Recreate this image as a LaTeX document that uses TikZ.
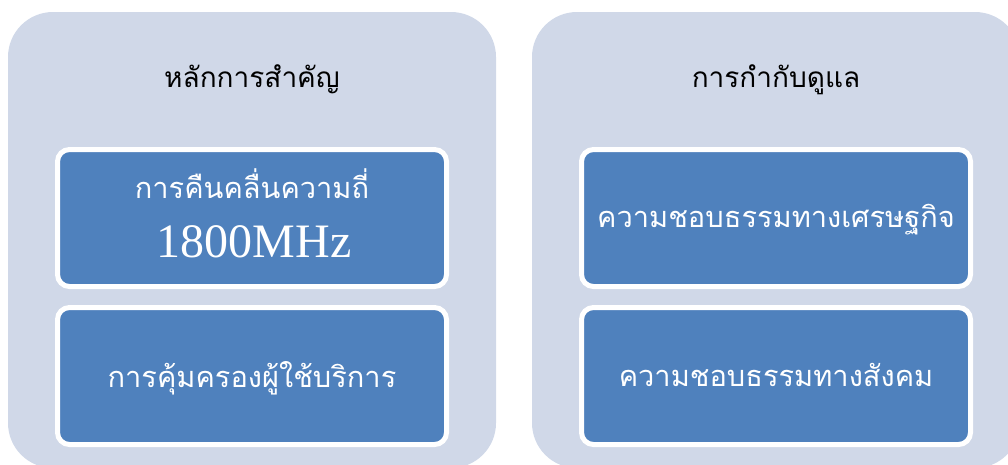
\documentclass[tikz,border=0pt]{standalone}
\usepackage{fontspec}
\newfontfamily\thai[Script=Thai]{Loma}
\newfontfamily\numfont{Liberation Serif}
\definecolor{panelfill}{RGB}{208,216,232}
\definecolor{boxfill}{RGB}{79,129,189}
\begin{document}
\begin{tikzpicture}[x=1pt,y=-1pt,
  panel/.style={rectangle, rounded corners=45pt, fill=panelfill, draw=none,
    minimum width=488pt, minimum height=456pt, inner sep=0pt},
  titletext/.style={inner sep=0pt, anchor=base, text=black, font=\thai\fontsize{28}{32}\selectfont},
  itembox/.style={rectangle, rounded corners=12pt, fill=boxfill, draw=white,
    line width=5pt, minimum width=389pt, minimum height=137pt, inner sep=0pt},
  itemtext/.style={inner sep=0pt, anchor=base, text=white, font=\thai\fontsize{29}{34}\selectfont},
  numtext/.style={inner sep=0pt, anchor=base, text=white, font=\numfont\fontsize{48}{52}\selectfont}]
\useasboundingbox (0,0) rectangle (1008,464);
\clip (0,0) rectangle (1008,464);
\node[panel] (lp) at (252,240) {};
\node[panel] (rp) at (776,240) {};
\node[titletext] (lt) at (252,87) {หลักการสำคัญ};
\node[titletext] (rt) at (776,87) {การกำกับดูแล};
\node[itembox] (l1) at (252,218) {};
\node[itembox] (l2) at (252,376) {};
\node[itembox] (r1) at (776,218) {};
\node[itembox] (r2) at (776,376) {};
\node[itemtext] (l1a) at (252,198) {การคืนคลื่นความถี่};
\node[numtext] (l1b) at (254,257) {1800MHz};
\node[itemtext] (l2t) at (252,387) {การคุ้มครองผู้ใช้บริการ};
\node[itemtext] (r1t) at (776,227) {ความชอบธรรมทางเศรษฐกิจ};
\node[itemtext] (r2t) at (776,386) {ความชอบธรรมทางสังคม};
\end{tikzpicture}
\end{document}
